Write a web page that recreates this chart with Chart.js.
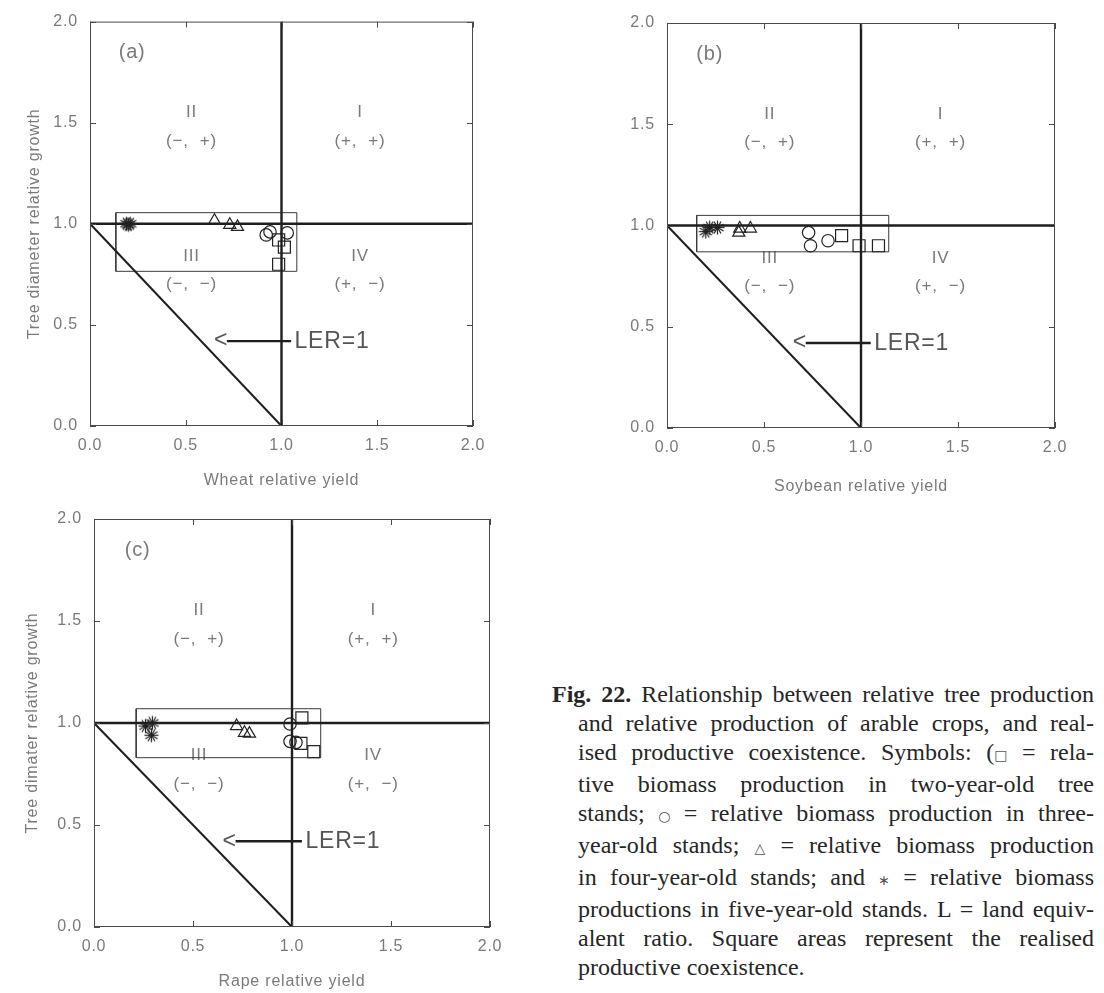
<!DOCTYPE html>
<html>
<head>
<meta charset="utf-8">
<title>Relative tree growth vs relative crop yield</title>
<script src="https://cdn.jsdelivr.net/npm/chart.js@4.4.1/dist/chart.umd.min.js"></script>
<style>
  html, body { margin: 0; padding: 0; background: #fff; }
  body { width: 1104px; height: 993px; position: relative; overflow: hidden; }
  canvas { position: absolute; display: block; }
  #caption {
    position: absolute; left: 552px; top: 680px; width: 542px;
    font-family: "Liberation Serif", "Times New Roman", serif;
    font-size: 24px; line-height: 29px; color: #262626;
  }
  #caption .ln { white-space: nowrap; padding-left: 26px; }
  #caption .ln.first { padding-left: 0; }
  #caption .sym { font-family: "DejaVu Sans", sans-serif; font-size: 14px; color: #555; }
</style>
</head>
<body>
<canvas id="chartA" width="545" height="495" style="left:0;top:0"></canvas>
<canvas id="chartB" width="544" height="500" style="left:560px;top:0"></canvas>
<canvas id="chartC" width="545" height="498" style="left:0;top:495px"></canvas>

<div id="caption">
  <div class="ln first"><span class="txt"><b>Fig. 22.</b> Relationship between relative tree production</span></div>
  <div class="ln"><span class="txt">and relative production of arable crops, and real-</span></div>
  <div class="ln"><span class="txt">ised productive coexistence. Symbols: (<span class="sym">□</span> = rela-</span></div>
  <div class="ln"><span class="txt">tive biomass production in two-year-old tree</span></div>
  <div class="ln"><span class="txt">stands; <span class="sym">○</span> = relative biomass production in three-</span></div>
  <div class="ln"><span class="txt">year-old stands; <span class="sym">△</span> = relative biomass production</span></div>
  <div class="ln"><span class="txt">in four-year-old stands; and <span class="sym">∗</span> = relative biomass</span></div>
  <div class="ln"><span class="txt">productions in five-year-old stands. L = land equiv-</span></div>
  <div class="ln"><span class="txt">alent ratio. Square areas represent the realised</span></div>
  <div class="ln last"><span class="txt">productive coexistence.</span></div>
</div>

<script>
// Axis ticks shared by every panel
const axisTicks = [0, 0.5, 1, 1.5, 2];

// (a) Wheat: [crop relative yield, tree diameter relative growth]
const wheatTwoYear   = [[0.985, 0.92], [1.015, 0.885], [0.985, 0.80]];
const wheatThreeYear = [[0.92, 0.945], [0.94, 0.96], [1.03, 0.955]];
const wheatFourYear  = [[0.65, 1.015], [0.73, 0.995], [0.77, 0.985]];
const wheatFiveYear  = [[0.19, 1.0], [0.2, 0.995], [0.21, 1.0]];
const wheatBox       = [0.135, 0.765, 1.08, 1.055];

// (b) Soybean
const soybeanTwoYear   = [[0.9, 0.95], [0.99, 0.9], [1.09, 0.9]];
const soybeanThreeYear = [[0.73, 0.965], [0.74, 0.9], [0.83, 0.925]];
const soybeanFourYear  = [[0.37, 0.965], [0.375, 0.985], [0.43, 0.985]];
const soybeanFiveYear  = [[0.2, 0.97], [0.22, 0.99], [0.26, 0.99]];
const soybeanBox       = [0.153, 0.87, 1.143, 1.05];

// (c) Rape
const rapeTwoYear   = [[1.05, 1.025], [1.045, 0.9], [1.11, 0.86]];
const rapeThreeYear = [[0.99, 0.995], [0.99, 0.91], [1.02, 0.905]];
const rapeFourYear  = [[0.72, 0.985], [0.76, 0.952], [0.785, 0.948]];
const rapeFiveYear  = [[0.26, 0.985], [0.295, 1.0], [0.29, 0.94]];
const rapeBox       = [0.213, 0.83, 1.145, 1.07];

// Reference lines
const lerLine     = [[0, 1], [1, 0]];
const cropNeutral = [[1, 0], [1, 2]];
const treeNeutral = [[0, 1], [2, 1]];
const lerArrow    = [[0.715, 0.42], [1.05, 0.42]];

// Quadrant annotations
const quadrantLabels = [
  { x: 0.53, y: 1.55, text: 'II' },  { x: 0.53, y: 1.41, text: '(\u2212,  +)' },
  { x: 1.41, y: 1.55, text: 'I' },   { x: 1.41, y: 1.41, text: '(+,  +)' },
  { x: 0.53, y: 0.84, text: 'III' }, { x: 0.53, y: 0.70, text: '(\u2212,  \u2212)' },
  { x: 1.41, y: 0.84, text: 'IV' },  { x: 1.41, y: 0.70, text: '(+,  \u2212)' }
];

const INK = '#1e1e1e';
const GREY = '#7a7a7a';
const FONT = '"Liberation Sans", Arial, sans-serif';

const toPoints = arr => arr.map(([x, y]) => ({ x, y }));
const boxOutline = b => [[b[0], b[1]], [b[2], b[1]], [b[2], b[3]], [b[0], b[3]], [b[0], b[1]]];

// Dense asterisk marker for the five-year-old stands
function asteriskMarker(r, spokes, lw) {
  const c = document.createElement('canvas');
  const s = Math.ceil(2 * r + 3);
  c.width = c.height = s;
  const g = c.getContext('2d');
  g.strokeStyle = '#222';
  g.lineWidth = lw;
  for (let i = 0; i < spokes; i++) {
    const a = Math.PI * i / spokes;
    g.beginPath();
    g.moveTo(s / 2 - r * Math.cos(a), s / 2 - r * Math.sin(a));
    g.lineTo(s / 2 + r * Math.cos(a), s / 2 + r * Math.sin(a));
    g.stroke();
  }
  return c;
}
const asterisk = asteriskMarker(7, 6, 1.2);

function lineSet(points, width, color) {
  return {
    data: toPoints(points), showLine: true, pointRadius: 0,
    borderColor: color, borderWidth: width, fill: false, tension: 0, order: 5
  };
}
function markerSet(points, style, radius) {
  return {
    data: toPoints(points), showLine: false, pointStyle: style,
    pointRadius: radius, pointBorderWidth: 1.2, pointBorderColor: '#222',
    pointBackgroundColor: 'rgba(0,0,0,0)', order: 1
  };
}

// Frame, inward ticks and text annotations of each panel
const panelDecor = {
  id: 'panelDecor',
  beforeDraw(chart) {
    // the plotter's lettering is widely spaced
    chart.ctx.letterSpacing = '0.8px';
  },
  beforeDatasetsDraw(chart, args, opts) {
    const { ctx, scales: { x, y } } = chart;
    ctx.save();
    ctx.fillStyle = GREY;
    ctx.textAlign = 'center';
    ctx.textBaseline = 'middle';
    ctx.font = '17px ' + FONT;
    quadrantLabels.forEach(q => ctx.fillText(q.text, x.getPixelForValue(q.x), y.getPixelForValue(q.y)));
    ctx.font = '20px ' + FONT;
    ctx.fillText(opts.letter, x.getPixelForValue(0.22), y.getPixelForValue(1.845));
    ctx.fillStyle = '#555';
    ctx.font = '23px ' + FONT;
    ctx.fillText('<', x.getPixelForValue(0.685), y.getPixelForValue(0.42));
    ctx.textAlign = 'left';
    ctx.fillText('LER=1', x.getPixelForValue(1.068), y.getPixelForValue(0.418));
    ctx.restore();
  },
  afterDatasetsDraw(chart) {
    const { ctx, chartArea: a, scales: { x, y } } = chart;
    ctx.save();
    ctx.strokeStyle = '#4a4a4a';
    ctx.lineWidth = 1;
    ctx.strokeRect(a.left + 0.5, a.top + 0.5, a.right - a.left - 1, a.bottom - a.top - 1);
    ctx.beginPath();
    axisTicks.forEach(v => {
      const px = Math.round(x.getPixelForValue(v)) + 0.5;
      ctx.moveTo(px, a.bottom); ctx.lineTo(px, a.bottom - 6);
      ctx.moveTo(px, a.top); ctx.lineTo(px, a.top + 6);
      const py = Math.round(y.getPixelForValue(v)) + 0.5;
      ctx.moveTo(a.left, py); ctx.lineTo(a.left + 6, py);
      ctx.moveTo(a.right, py); ctx.lineTo(a.right - 6, py);
    });
    ctx.stroke();
    ctx.restore();
  }
};

function makePanel(canvasId, p) {
  const tickFont = { family: FONT, size: 16 };
  const titleFont = { family: FONT, size: 16 };
  return new Chart(document.getElementById(canvasId), {
    type: 'scatter',
    data: {
      datasets: [
        lineSet(treeNeutral, 2.4, INK),
        lineSet(cropNeutral, 2.4, INK),
        lineSet(lerLine, 2, INK),
        lineSet(boxOutline(p.box), 1, '#3a3a3a'),
        lineSet(lerArrow, 2.4, INK),
        markerSet(p.two, 'rect', 8.5),
        markerSet(p.three, 'circle', 6.2),
        markerSet(p.four, 'triangle', 7),
        markerSet(p.five, asterisk, 7)
      ]
    },
    options: {
      responsive: false,
      animation: false,
      events: [],
      layout: { padding: { left: 0, top: p.padTop, right: p.padRight, bottom: 0 } },
      plugins: {
        legend: { display: false },
        tooltip: { enabled: false },
        panelDecor: { letter: p.letter }
      },
      scales: {
        x: {
          type: 'linear', min: 0, max: 2,
          afterBuildTicks: s => { s.ticks = axisTicks.map(v => ({ value: v })); },
          afterFit: s => { s.height = p.xAxisHeight; },
          grid: { display: false, drawTicks: false },
          border: { display: false },
          ticks: { padding: 10, color: GREY, font: tickFont, autoSkip: false, maxRotation: 0,
                   callback: v => Number(v).toFixed(1) },
          title: { display: true, text: p.xTitle, color: GREY, font: titleFont,
                   padding: { top: 0, bottom: p.xTitlePad } }
        },
        y: {
          type: 'linear', min: 0, max: 2,
          afterBuildTicks: s => { s.ticks = axisTicks.map(v => ({ value: v })); },
          afterFit: s => { s.width = p.yAxisWidth; },
          grid: { display: false, drawTicks: false },
          border: { display: false },
          ticks: { padding: 12, color: GREY, font: tickFont, autoSkip: false,
                   callback: v => Number(v).toFixed(1) },
          title: { display: !!p.yTitle, text: p.yTitle || '', color: GREY, font: titleFont,
                   padding: { top: p.yTitlePad, bottom: 0 } }
        }
      }
    },
    plugins: [panelDecor]
  });
}

makePanel('chartA', {
  letter: '(a)', box: wheatBox,
  two: wheatTwoYear, three: wheatThreeYear, four: wheatFourYear, five: wheatFiveYear,
  xTitle: 'Wheat relative yield', yTitle: 'Tree diameter relative growth',
  padTop: 18, padRight: 72, xAxisHeight: 69, yAxisWidth: 90, xTitlePad: 5, yTitlePad: 25
});
makePanel('chartB', {
  letter: '(b)', box: soybeanBox,
  two: soybeanTwoYear, three: soybeanThreeYear, four: soybeanFourYear, five: soybeanFiveYear,
  xTitle: 'Soybean relative yield', yTitle: '',
  padTop: 23, padRight: 49, xAxisHeight: 72, yAxisWidth: 107, xTitlePad: 4, yTitlePad: 0
});
makePanel('chartC', {
  letter: '(c)', box: rapeBox,
  two: rapeTwoYear, three: rapeThreeYear, four: rapeFourYear, five: rapeFiveYear,
  xTitle: 'Rape relative yield', yTitle: 'Tree dimater relative growth',
  padTop: 24, padRight: 55, xAxisHeight: 66, yAxisWidth: 94, xTitlePad: 2, yTitlePad: 23
});

// Justify each caption line to the column width
(function justifyCaption() {
  const lines = document.querySelectorAll('#caption .ln');
  lines.forEach(ln => {
    if (ln.classList.contains('last')) return;
    const span = ln.querySelector('.txt');
    const target = ln.clientWidth - parseFloat(getComputedStyle(ln).paddingLeft);
    const natural = span.getBoundingClientRect().width;
    const gaps = (span.textContent.match(/ /g) || []).length;
    if (gaps > 0) ln.style.wordSpacing = ((target - natural) / gaps) + 'px';
  });
})();
</script>
</body>
</html>
